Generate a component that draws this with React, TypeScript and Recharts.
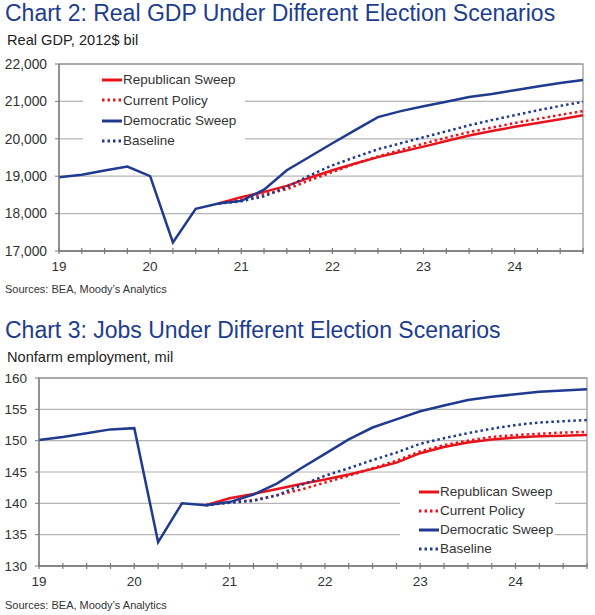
import React from 'react';
import { LineChart, Line, XAxis, YAxis, CartesianGrid, ReferenceArea } from 'recharts';

// ---------- categories & tick labels ----------
const quarters = [
  '19Q1', '19Q2', '19Q3', '19Q4',
  '20Q1', '20Q2', '20Q3', '20Q4',
  '21Q1', '21Q2', '21Q3', '21Q4',
  '22Q1', '22Q2', '22Q3', '22Q4',
  '23Q1', '23Q2', '23Q3', '23Q4',
  '24Q1', '24Q2', '24Q3', '24Q4',
];
const yearLabels = ['19', '20', '21', '22', '23', '24'];
const gdpTicks = [17000, 18000, 19000, 20000, 21000, 22000];
const jobsTicks = [130, 135, 140, 145, 150, 155, 160];

// ---------- Chart 2: Real GDP (2012$ bil) ----------
const gdpDemocratic = [18970, 19040, 19150, 19260, 19000, 17230, 18130, 18270, 18340, 18640, 19160, 19520, 19880, 20230, 20580, 20740, 20870, 20990, 21120, 21200, 21300, 21400, 21490, 21570];
const gdpRepublican = [null, null, null, null, null, null, null, 18270, 18440, 18580, 18740, 18960, 19160, 19340, 19510, 19650, 19790, 19940, 20090, 20210, 20320, 20420, 20520, 20630];
const gdpCurrent = [null, null, null, null, null, null, null, 18270, 18380, 18520, 18650, 18890, 19110, 19330, 19530, 19700, 19870, 20030, 20180, 20300, 20420, 20530, 20640, 20740];
const gdpBaseline = [null, null, null, null, null, null, null, 18270, 18330, 18460, 18710, 19020, 19290, 19510, 19720, 19880, 20040, 20200, 20360, 20500, 20630, 20760, 20880, 20990];

// ---------- Chart 3: Nonfarm employment (mil) ----------
const jobsDemocratic = [150.1, 150.6, 151.2, 151.8, 152.0, 133.8, 140.0, 139.7, 140.2, 141.4, 143.2, 145.6, 147.9, 150.2, 152.1, 153.4, 154.7, 155.6, 156.5, 157.0, 157.4, 157.8, 158.0, 158.2];
const jobsRepublican = [null, null, null, null, null, null, null, 139.7, 140.8, 141.5, 142.3, 143.1, 143.8, 144.6, 145.5, 146.5, 148.0, 149.0, 149.7, 150.2, 150.5, 150.7, 150.8, 150.9];
const jobsCurrent = [null, null, null, null, null, null, null, 139.7, 140.2, 140.5, 141.3, 142.2, 143.3, 144.4, 145.6, 146.8, 148.3, 149.3, 150.0, 150.6, 150.9, 151.1, 151.3, 151.4];
const jobsBaseline = [null, null, null, null, null, null, null, 139.7, 140.1, 140.4, 141.3, 142.9, 144.4, 145.6, 146.9, 148.1, 149.5, 150.4, 151.2, 151.9, 152.5, 152.9, 153.1, 153.3];

// ---------- styles ----------
const RED = '#e8141c';
const BLUE = '#1f3a8f';
const TITLE = '#203c8e';
const TEXT = '#333333';
const AXIS = '#7a7a7a';
const GRID = '#b4b4b4';
const DOT = '2.5 3';
const FONT = "'Liberation Sans', Arial, Helvetica, sans-serif";

const series = [
  { key: 'rep', name: 'Republican Sweep', color: RED, dash: undefined as string | undefined },
  { key: 'cur', name: 'Current Policy', color: RED, dash: DOT },
  { key: 'dem', name: 'Democratic Sweep', color: BLUE, dash: undefined as string | undefined },
  { key: 'base', name: 'Baseline', color: BLUE, dash: DOT },
];
const drawOrder = ['rep', 'cur', 'base', 'dem'];

const gdpData = quarters.map((q, i) => ({
  q,
  dem: gdpDemocratic[i],
  rep: gdpRepublican[i],
  cur: gdpCurrent[i],
  base: gdpBaseline[i],
}));
const jobsData = quarters.map((q, i) => ({
  q,
  dem: jobsDemocratic[i],
  rep: jobsRepublican[i],
  cur: jobsCurrent[i],
  base: jobsBaseline[i],
}));

const labelFor = (index: number) => (index % 4 === 0 ? yearLabels[index / 4] : '');

const XTick = (props: any) => {
  const { x, y, index } = props;
  const lbl = labelFor(index);
  return (
    <g>
      <line x1={x} x2={x} y1={y - 3} y2={y + 3} stroke={AXIS} strokeWidth={1.2} />
      {lbl ? (
        <text x={x} y={y + 20} textAnchor="middle" fontSize={13.5} fill={TEXT} fontFamily={FONT}>
          {lbl}
        </text>
      ) : null}
    </g>
  );
};

const Legend = ({ left, top, width, height, rowH }: { left: number; top: number; width: number; height: number; rowH: number }) => (
  <div
    style={{
      position: 'absolute',
      left,
      top,
      width,
      height,
      background: '#ffffff',
      paddingTop: 4,
      boxSizing: 'border-box',
    }}
  >
    {series.map((s) => (
      <div key={s.key} style={{ display: 'flex', alignItems: 'center', height: rowH, paddingLeft: 19 }}>
        <svg width={20} height={6} style={{ display: 'block', marginRight: 1 }}>
          <line x1={0} y1={3} x2={20} y2={3} stroke={s.color} strokeWidth={3} strokeDasharray={s.dash} />
        </svg>
        <span style={{ fontSize: 13.5, color: TEXT, whiteSpace: 'nowrap', lineHeight: 1 }}>{s.name}</span>
      </div>
    ))}
  </div>
);

const renderLines = () =>
  drawOrder.map((k) => {
    const s = series.find((x) => x.key === k)!;
    return (
      <Line
        key={k}
        dataKey={k}
        name={s.name}
        type="linear"
        stroke={s.color}
        strokeWidth={2.5}
        strokeDasharray={s.dash}
        dot={false}
        activeDot={false}
        isAnimationActive={false}
        connectNulls={false}
      />
    );
  });

const textStyle = (left: number, top: number, size: number, color: string): React.CSSProperties => ({
  position: 'absolute',
  left,
  top,
  fontSize: size,
  lineHeight: `${size}px`,
  color,
  whiteSpace: 'nowrap',
});

export default function App() {
  return (
    <div
      style={{
        position: 'absolute',
        left: 0,
        top: 0,
        width: 595,
        height: 615,
        background: '#ffffff',
        fontFamily: FONT,
        overflow: 'hidden',
      }}
    >
      <div style={{ position: 'absolute', left: 0, top: 0 }}>
        <LineChart width={595} height={300} data={gdpData} margin={{ top: 64, right: 12, bottom: 19, left: 0 }}>
          <CartesianGrid vertical={false} stroke={GRID} strokeWidth={1.2} />
          <ReferenceArea
            x1={quarters[0]}
            x2={quarters[quarters.length - 1]}
            y1={gdpTicks[0]}
            y2={gdpTicks[gdpTicks.length - 1]}
            fill="none"
            stroke="#9a9a9a"
            strokeWidth={1.3}
          />
          <XAxis
            dataKey="q"
            interval={0}
            height={30}
            tickSize={0}
            tickMargin={0}
            tickLine={false}
            axisLine={{ stroke: AXIS, strokeWidth: 1.3 }}
            tick={XTick}
            padding={{ left: 0, right: 0 }}
          />
          <YAxis
            width={59}
            domain={[gdpTicks[0], gdpTicks[gdpTicks.length - 1]]}
            ticks={gdpTicks}
            interval={0}
            tickFormatter={(v: number) => v.toLocaleString('en-US')}
            tick={{ fontSize: 13.8, fill: TEXT }}
            tickSize={4}
            tickMargin={8}
            tickLine={{ stroke: AXIS }}
            axisLine={{ stroke: AXIS, strokeWidth: 1.3 }}
          />
          {renderLines()}
        </LineChart>
      </div>

      <div style={{ position: 'absolute', left: 0, top: 300 }}>
        <LineChart width={595} height={315} data={jobsData} margin={{ top: 78, right: 8, bottom: 19, left: 0 }}>
          <CartesianGrid vertical={false} stroke={GRID} strokeWidth={1.2} />
          <ReferenceArea
            x1={quarters[0]}
            x2={quarters[quarters.length - 1]}
            y1={jobsTicks[0]}
            y2={jobsTicks[jobsTicks.length - 1]}
            fill="none"
            stroke="#9a9a9a"
            strokeWidth={1.3}
          />
          <XAxis
            dataKey="q"
            interval={0}
            height={30}
            tickSize={0}
            tickMargin={0}
            tickLine={false}
            axisLine={{ stroke: AXIS, strokeWidth: 1.3 }}
            tick={XTick}
            padding={{ left: 0, right: 0 }}
          />
          <YAxis
            width={39}
            domain={[jobsTicks[0], jobsTicks[jobsTicks.length - 1]]}
            ticks={jobsTicks}
            interval={0}
            tick={{ fontSize: 13.5, fill: TEXT }}
            tickSize={4}
            tickMargin={8}
            tickLine={{ stroke: AXIS }}
            axisLine={{ stroke: AXIS, strokeWidth: 1.3 }}
          />
          {renderLines()}
        </LineChart>
      </div>

      <Legend left={83} top={66} width={162} height={88} rowH={20.3} />
      <Legend left={400} top={478} width={155} height={82} rowH={19} />

      <div style={textStyle(5, 1.5, 23, TITLE)}>Chart 2: Real GDP Under Different Election Scenarios</div>
      <div style={textStyle(7, 32.5, 14.6, '#222')}>Real GDP, 2012$ bil</div>
      <div style={textStyle(5, 283.5, 11, TEXT)}>Sources: BEA, Moody’s Analytics</div>

      <div style={textStyle(5, 319, 23, TITLE)}>Chart 3: Jobs Under Different Election Scenarios</div>
      <div style={textStyle(7, 350, 14.6, '#222')}>Nonfarm employment, mil</div>
      <div style={textStyle(5, 600, 11, TEXT)}>Sources: BEA, Moody’s Analytics</div>
    </div>
  );
}
